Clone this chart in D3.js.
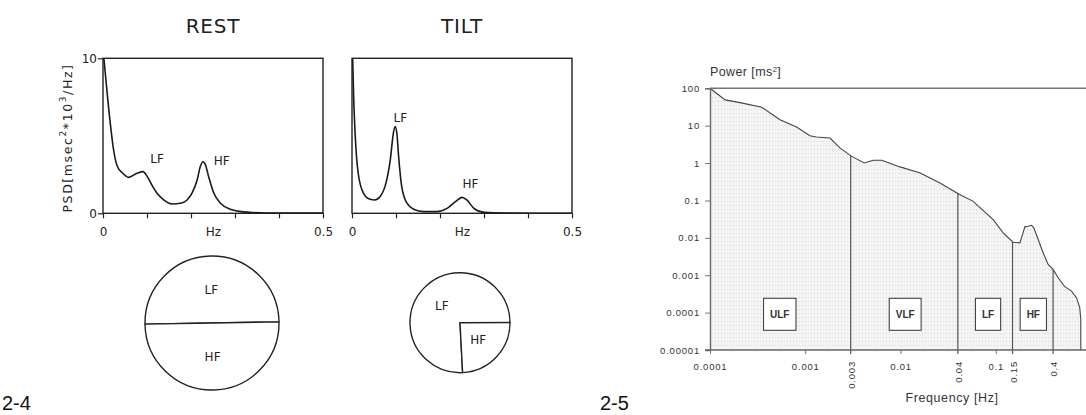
<!DOCTYPE html>
<html>
<head>
<meta charset="utf-8">
<script src="https://cdn.jsdelivr.net/npm/d3@7"></script>
<style>
  html, body { margin: 0; padding: 0; background: #fff; }
  svg { display: block; }
</style>
</head>
<body>
<svg id="fig" width="1086" height="415"></svg>
<script>
// ---- Figure 2-4: PSD at rest and during tilt (linear scale) ----
const psdTicks = [0, 0.1, 0.2, 0.3, 0.4, 0.5];
const psdAxisLabels = ["0", "Hz", "0.5"];
const psdAxisLabelAt = [0, 0.25, 0.5];

const restHz  = [0.002, 0.006, 0.011, 0.019, 0.024, 0.033, 0.045, 0.058, 0.077, 0.091, 0.1, 0.111, 0.123, 0.138, 0.157, 0.176, 0.191, 0.202, 0.214, 0.221, 0.227, 0.233, 0.24, 0.252, 0.267, 0.289, 0.32, 0.373, 0.44, 0.5];
const restPsd = [10, 8.8, 7.3, 5.2, 4.1, 3.0, 2.58, 2.32, 2.58, 2.69, 2.4, 1.83, 1.29, 0.86, 0.6, 0.65, 0.86, 1.29, 2.15, 3.0, 3.33, 3.12, 2.37, 1.29, 0.65, 0.26, 0.09, 0.02, 0.01, 0.01];

const tiltHz  = [0.0015, 0.004, 0.007, 0.014, 0.026, 0.041, 0.052, 0.064, 0.075, 0.087, 0.094, 0.098, 0.102, 0.106, 0.113, 0.125, 0.14, 0.163, 0.193, 0.216, 0.235, 0.25, 0.261, 0.277, 0.3, 0.345, 0.5];
const tiltPsd = [10, 7.3, 5.2, 2.6, 1.3, 0.9, 0.86, 1.08, 1.72, 3.44, 5.16, 5.6, 5.16, 3.66, 1.72, 0.65, 0.26, 0.11, 0.11, 0.32, 0.75, 1.03, 0.86, 0.32, 0.06, 0.01, 0.0];

// peak annotations, in data units (Hz, PSD)
const restNotes = [{ t: "LF", hz: 0.123, v: 3.5 }, { t: "HF", hz: 0.27, v: 3.37 }];
const tiltNotes = [{ t: "LF", hz: 0.11, v: 6.15 }, { t: "HF", hz: 0.269, v: 1.89 }];

// spectral power components (ms^2) shown as pies
const pieBands = ["LF", "HF"];
const restPower = [50, 50];
const tiltPower = [42.2, 13.5];

// ---- Figure 2-5: log-log power spectrum with frequency bands ----
const specHz = [0.0001, 0.000144, 0.000207, 0.000349, 0.000543, 0.00081, 0.00112, 0.00131, 0.00182, 0.00231, 0.00307, 0.00417, 0.00517, 0.00637, 0.00986, 0.0159, 0.0257, 0.0417, 0.0575, 0.094, 0.1196, 0.152, 0.179, 0.191, 0.202, 0.219, 0.2377, 0.251, 0.279, 0.314, 0.355, 0.4, 0.452, 0.531, 0.624, 0.704, 0.762, 0.781, 0.782];
const specPow = [100, 48.9, 41.4, 31.2, 14.4, 9.2, 5.37, 4.97, 4.68, 2.54, 1.51, 1.01, 1.19, 1.19, 0.79, 0.55, 0.297, 0.145, 0.096, 0.0308, 0.0136, 0.00763, 0.00735, 0.01225, 0.0197, 0.0204, 0.0217, 0.0185, 0.009, 0.00398, 0.00194, 0.00143, 0.000858, 0.000493, 0.000377, 0.000251, 0.000136, 0.0000662, 0.00001];

const powTicks = [1e-5, 1e-4, 1e-3, 1e-2, 1e-1, 1, 10, 100];
const powTickLabels = ["0.00001", "0.0001", "0.001", "0.01", "0.1", "1", "10", "100"];
const freqTicks = [1e-4, 1e-3, 1e-2, 1e-1];
const freqTickLabels = ["0.0001", "0.001", "0.01", "0.1"];
const bandEdges = [0.003, 0.04, 0.15, 0.4];
const bandEdgeLabels = ["0.003", "0.04", "0.15", "0.4"];
const bandNames = ["ULF", "VLF", "LF", "HF"];
const bandCenters = [0.00054, 0.0112, 0.083, 0.248];
const bandLabelLevel = 9e-5;

const svg = d3.select("#fig");
const plotFont = "'DejaVu Sans', sans-serif";
const arialFont = "'Liberation Sans', Arial, sans-serif";

// ---------- linear PSD panels ----------
function psdPanel(opt) {
  const x = d3.scaleLinear([0, 0.5], [opt.left, opt.left + 220]);
  const y = d3.scaleLinear([0, 10], [213.3, 58.3]);
  const g = svg.append("g");
  const clipId = "clip-" + opt.title;
  svg.append("clipPath").attr("id", clipId)
    .append("rect").attr("x", x(0)).attr("y", y(10)).attr("width", x(0.5) - x(0)).attr("height", y(0) - y(10));

  // ticks on the frequency axis
  const ax = g.append("g").attr("transform", `translate(0,${y(0)})`)
    .call(d3.axisBottom(x).tickValues(psdTicks).tickSize(5).tickFormat(""));
  ax.select(".domain").remove();
  ax.selectAll("line").attr("stroke", "#222").attr("stroke-width", 1.2);

  const lab = g.append("g").attr("transform", `translate(0,${y(0)})`)
    .call(d3.axisBottom(x).tickValues(psdAxisLabelAt).tickSize(0).tickPadding(14)
      .tickFormat((d, i) => psdAxisLabels[i]));
  lab.select(".domain").remove();
  lab.selectAll("text").attr("font-family", plotFont).attr("font-size", 12).attr("fill", "#222");

  if (opt.yTicks) {
    const ay = g.append("g").attr("transform", `translate(${x(0)},0)`)
      .call(d3.axisLeft(y).tickValues([0, 10]).tickSize(5).tickPadding(1).tickFormat(d3.format("d")));
    ay.select(".domain").remove();
    ay.selectAll("line").attr("stroke", "#222").attr("stroke-width", 1.2);
    ay.selectAll("text").attr("font-family", plotFont).attr("font-size", 12).attr("fill", "#222");
  }

  // frame
  g.append("rect").attr("x", x(0)).attr("y", y(10))
    .attr("width", x(0.5) - x(0)).attr("height", y(0) - y(10))
    .attr("fill", "none").attr("stroke", "#222").attr("stroke-width", 1.4);

  // spectrum
  const pts = opt.hz.map((h, i) => [h, opt.psd[i]]);
  g.append("path").datum(pts)
    .attr("clip-path", `url(#${clipId})`)
    .attr("fill", "none").attr("stroke", "#1a1a1a").attr("stroke-width", 1.6)
    .attr("d", d3.line().x(d => x(d[0])).y(d => y(d[1])).curve(d3.curveMonotoneX));

  g.selectAll("text.note").data(opt.notes).join("text").attr("class", "note")
    .attr("x", d => x(d.hz)).attr("y", d => y(d.v)).attr("dy", "0.35em")
    .attr("text-anchor", "middle").attr("font-family", plotFont).attr("font-size", 12).attr("fill", "#222")
    .text(d => d.t);

  g.append("text").attr("x", x(0.25)).attr("y", 33.3)
    .attr("text-anchor", "middle").attr("font-family", plotFont).attr("font-size", 20)
    .attr("fill", "#222").attr("letter-spacing", 0.8).text(opt.title);
}

psdPanel({ title: "REST", left: 103, hz: restHz, psd: restPsd, notes: restNotes, yTicks: true });
psdPanel({ title: "TILT", left: 352, hz: tiltHz, psd: tiltPsd, notes: tiltNotes, yTicks: false });

// y-axis title of the linear panels
const yt = svg.append("text")
  .attr("transform", "translate(72,138) rotate(-90)")
  .attr("text-anchor", "middle").attr("font-family", plotFont).attr("font-size", 12.5)
  .attr("letter-spacing", 1.6).attr("fill", "#222");
yt.append("tspan").text("PSD[msec");
yt.append("tspan").attr("dy", -6).attr("font-size", 9).text("2");
yt.append("tspan").attr("dy", 6).text("*10");
yt.append("tspan").attr("dy", -6).attr("font-size", 9).text("3");
yt.append("tspan").attr("dy", 6).text("/Hz]");

// ---------- pies (area proportional to total power) ----------
const rScale = d3.scaleSqrt([0, 100], [0, 67]);
function powerPie(values, cx, cy, startDeg) {
  const total = d3.sum(values);
  const r = rScale(total);
  const pie = d3.pie().sort(null).startAngle(startDeg * Math.PI / 180).endAngle(startDeg * Math.PI / 180 + 2 * Math.PI);
  const arcs = pie(values);
  const arc = d3.arc().innerRadius(0).outerRadius(r);
  const labelArc = d3.arc().innerRadius(r * 0.5).outerRadius(r * 0.5);
  const g = svg.append("g").attr("transform", `translate(${cx},${cy})`);
  g.selectAll("path").data(arcs).join("path")
    .attr("d", arc).attr("fill", "#fff").attr("stroke", "#222").attr("stroke-width", 1.4)
    .attr("stroke-linejoin", "round");
  g.selectAll("text").data(arcs).join("text")
    .attr("transform", d => `translate(${labelArc.centroid(d)})`)
    .attr("dy", "0.35em").attr("text-anchor", "middle")
    .attr("font-family", plotFont).attr("font-size", 12).attr("fill", "#222")
    .text((d, i) => pieBands[i]);
}
powerPie(restPower, 212, 323, -91);
powerPie(tiltPower, 460, 322.7, 177);

// ---------- log-log spectrum ----------
const fx = d3.scaleLog([1e-4, 1], [710, 1091]);
const py = d3.scaleLog([1e-5, 100], [350, 88.3]);
const spec = specHz.map((h, i) => [h, specPow[i]]);

const defs = svg.append("defs");
const pat = defs.append("pattern").attr("id", "stipple").attr("patternUnits", "userSpaceOnUse")
  .attr("width", 3).attr("height", 4);
pat.append("rect").attr("width", 3).attr("height", 4).attr("fill", "#f4f4f4");
pat.append("rect").attr("x", 1).attr("y", 1).attr("width", 1).attr("height", 1).attr("fill", "#d6d6d6");

svg.append("path").datum(spec)
  .attr("fill", "url(#stipple)")
  .attr("d", d3.area().x(d => fx(d[0])).y0(py(1e-5)).y1(d => py(d[1])));

function powerAt(f) {
  const i = d3.bisectRight(specHz, f);
  const a = spec[Math.max(0, i - 1)], b = spec[Math.min(spec.length - 1, i)];
  if (a[0] === b[0]) return a[1];
  const t = (Math.log(f) - Math.log(a[0])) / (Math.log(b[0]) - Math.log(a[0]));
  return Math.exp(Math.log(a[1]) + t * (Math.log(b[1]) - Math.log(a[1])));
}

// band borders
svg.selectAll("line.edge").data(bandEdges).join("line").attr("class", "edge")
  .attr("x1", d => fx(d)).attr("x2", d => fx(d))
  .attr("y1", d => py(powerAt(d))).attr("y2", py(1e-5) + 4)
  .attr("stroke", "#555").attr("stroke-width", 1.2);

// spectrum outline
svg.append("path").datum(spec)
  .attr("fill", "none").attr("stroke", "#444").attr("stroke-width", 1.1)
  .attr("d", d3.line().x(d => fx(d[0])).y(d => py(d[1])));

// axes
const yAx = svg.append("g").attr("transform", `translate(${fx(1e-4)},0)`)
  .call(d3.axisLeft(py).tickValues(powTicks).tickSize(5).tickPadding(5)
    .tickFormat((d, i) => powTickLabels[i]));
yAx.select(".domain").attr("stroke", "#666").attr("stroke-width", 1.4);
yAx.selectAll("line").attr("stroke", "#777");
yAx.selectAll("text").attr("font-family", arialFont).attr("font-size", 9.5).attr("letter-spacing", 0.8).attr("fill", "#333");

const xAx = svg.append("g").attr("transform", `translate(0,${py(1e-5)})`)
  .call(d3.axisBottom(fx).tickValues(freqTicks).tickSize(4).tickPadding(9)
    .tickFormat((d, i) => freqTickLabels[i]));
xAx.select(".domain").remove();
xAx.selectAll("line").attr("stroke", "#777");
xAx.selectAll("text").attr("font-family", arialFont).attr("font-size", 9.5).attr("letter-spacing", 0.8).attr("fill", "#333");

svg.append("line").attr("x1", fx(1e-4) - 5).attr("x2", 1086)
  .attr("y1", py(1e-5)).attr("y2", py(1e-5)).attr("stroke", "#666").attr("stroke-width", 1.4);
svg.append("line").attr("x1", fx(1e-4)).attr("x2", 1086)
  .attr("y1", py(100)).attr("y2", py(100)).attr("stroke", "#777").attr("stroke-width", 1.6);

// rotated band-edge labels
svg.selectAll("text.edge").data(bandEdges).join("text").attr("class", "edge")
  .attr("transform", d => `translate(${fx(d) + 1},${py(1e-5) + 11}) rotate(-90)`)
  .attr("dy", "0.35em").attr("text-anchor", "end")
  .attr("font-family", arialFont).attr("font-size", 9.5).attr("letter-spacing", 0.8).attr("fill", "#333")
  .text((d, i) => bandEdgeLabels[i]);

// band name boxes
const boxes = svg.selectAll("g.band").data(bandNames).join("g").attr("class", "band")
  .attr("transform", (d, i) => `translate(${fx(bandCenters[i])},${py(bandLabelLevel)})`);
boxes.append("rect").attr("fill", "#fff").attr("stroke", "#444").attr("stroke-width", 1.1);
boxes.append("text").attr("dy", "0.35em").attr("text-anchor", "middle")
  .attr("font-family", arialFont).attr("font-weight", "bold").attr("font-size", 10).attr("fill", "#333")
  .text(d => d);
boxes.each(function () {
  const g = d3.select(this);
  const w = g.select("text").node().getComputedTextLength() + 13;
  g.select("rect").attr("x", -w / 2).attr("y", -16).attr("width", w).attr("height", 32);
});

// titles
svg.append("text").attr("x", fx(1e-4)).attr("y", 76)
  .attr("font-family", arialFont).attr("font-size", 12.5).attr("letter-spacing", 0.4).attr("fill", "#333")
  .call(t => { t.append("tspan").text("Power [ms"); t.append("tspan").attr("dy", -4).attr("font-size", 7.5).text("2");
               t.append("tspan").attr("dy", 4).text("]"); });
svg.append("text").attr("x", 952).attr("y", 402).attr("text-anchor", "middle")
  .attr("font-family", arialFont).attr("font-size", 12.5).attr("letter-spacing", 0.6).attr("fill", "#333")
  .text("Frequency [Hz]");

// figure numbers
svg.append("text").attr("x", 2).attr("y", 410)
  .attr("font-family", arialFont).attr("font-size", 20).attr("fill", "#111").text("2-4");
svg.append("text").attr("x", 600).attr("y", 410)
  .attr("font-family", arialFont).attr("font-size", 20).attr("fill", "#111").text("2-5");
</script>
</body>
</html>
